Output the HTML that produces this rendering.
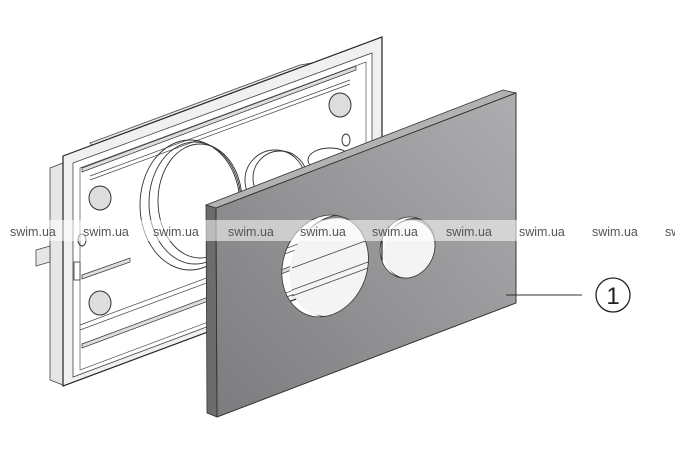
<!DOCTYPE html>
<html><head><meta charset="utf-8"><style>
html,body{margin:0;padding:0;background:#fff;width:675px;height:463px;overflow:hidden}
svg{display:block}
text{font-family:"Liberation Sans",sans-serif}
</style></head><body>
<svg width="675" height="463" viewBox="0 0 675 463">
<defs>
<linearGradient id="pg" x1="0" y1="1" x2="1" y2="0">
<stop offset="0" stop-color="#7c7c7e"/><stop offset="1" stop-color="#aeaeb0"/>
</linearGradient>
</defs>
<!-- back box side flanges -->
<polygon points="50,168 63,163 63,385 50,380" fill="#e6e6e6" stroke="#444" stroke-width="0.8"/>
<polygon points="36,250 50,246 50,262 36,266" fill="#e6e6e6" stroke="#444" stroke-width="0.8"/>
<polygon points="90,143 300,65 330,60 95,150" fill="#e6e6e6" stroke="#444" stroke-width="0.8"/>
<!-- frame -->
<polygon points="63,156 382,37 382,267 63,386" fill="#f0f0f0" stroke="#222" stroke-width="1.2"/>
<polygon points="73,163 372,53 372,265 73,377" fill="#fff" stroke="#444" stroke-width="0.8"/>
<polygon points="80,168 366,62 366,263 80,370" fill="#fff" stroke="#555" stroke-width="0.7"/>
<!-- rails -->
<polygon points="82,168 356,66 356,70 82,172" fill="#ddd" stroke="#333" stroke-width="0.7"/>
<line x1="90" y1="176" x2="350" y2="80" stroke="#444" stroke-width="0.7"/>
<line x1="90" y1="180" x2="350" y2="84" stroke="#444" stroke-width="0.7"/>
<polygon points="82,344 356,242 356,246 82,348" fill="#ddd" stroke="#333" stroke-width="0.7"/>
<polygon points="82,275 130,258 130,262 82,279" fill="#ddd" stroke="#333" stroke-width="0.7"/>
<line x1="80" y1="330" x2="360" y2="226" stroke="#444" stroke-width="0.7"/>
<line x1="80" y1="325" x2="360" y2="221" stroke="#444" stroke-width="0.7"/>
<!-- knobs -->
<g fill="#ddd" stroke="#333" stroke-width="1">
<ellipse cx="100" cy="198" rx="11" ry="12"/>
<ellipse cx="100" cy="303" rx="11" ry="12"/>
<ellipse cx="340" cy="105" rx="11" ry="12"/>
</g>
<ellipse cx="346" cy="140" rx="4" ry="6" fill="none" stroke="#333"/>
<ellipse cx="82" cy="240" rx="4" ry="6" fill="none" stroke="#333"/>
<rect x="74" y="262" width="6" height="18" fill="#fff" stroke="#333" stroke-width="0.8"/>
<!-- big buttons -->
<g fill="none" stroke="#333" stroke-width="0.9">
<ellipse cx="190" cy="205" rx="50" ry="65"/>
<ellipse cx="195" cy="203" rx="46" ry="61"/>
<ellipse cx="200" cy="201" rx="42" ry="57"/>
<ellipse cx="275" cy="180" rx="30" ry="30"/>
<ellipse cx="280" cy="178" rx="27" ry="27"/>
<ellipse cx="330" cy="160" rx="22" ry="12"/>
</g>
<!-- plate -->
<polygon points="206,205 503,90 516,93 216,208" fill="#b2b2b4" stroke="#333" stroke-width="0.8"/>
<polygon points="206,205 216,208 217,417 207,413" fill="#6c6c6e" stroke="#333" stroke-width="0.8"/>
<!-- hole rims (thickness) -->
<ellipse cx="335" cy="266" rx="42" ry="52" transform="rotate(20 335 266)" fill="#8a8a8c" stroke="#333" stroke-width="0.8"/>
<ellipse cx="412" cy="249" rx="27" ry="31" transform="rotate(20 412 249)" fill="#8a8a8c" stroke="#333" stroke-width="0.8"/>
<ellipse cx="331" cy="267" rx="40" ry="50" transform="rotate(20 331 267)" fill="#f4f4f4"/>
<ellipse cx="409" cy="249" rx="25" ry="29" transform="rotate(20 409 249)" fill="#f4f4f4"/>
<g stroke="#444" stroke-width="0.8">
<line x1="292" y1="268" x2="368" y2="240"/>
<line x1="292" y1="290" x2="368" y2="262"/>
<line x1="292" y1="296" x2="368" y2="268"/>
</g>
<path fill-rule="evenodd" d="M216,208 L516,93 L516,303 L217,417 Z
M331,215 a42,52 20 1,0 0.1,0 Z
M410,217 a27,31 20 1,0 0.1,0 Z" fill="url(#pg)" stroke="#333" stroke-width="0.8"/>
<path d="M216,208 L516,93 L516,303 L217,417 Z" fill="none" stroke="#333" stroke-width="0.8"/>
<!-- watermark band -->
<rect x="0" y="220" width="675" height="21" fill="#fff" opacity="0.55"/>
<g font-size="12.5" fill="#555">
<text x="10" y="236">swim.ua</text>
<text x="83" y="236">swim.ua</text>
<text x="153" y="236">swim.ua</text>
<text x="228" y="236">swim.ua</text>
<text x="300" y="236">swim.ua</text>
<text x="372" y="236">swim.ua</text>
<text x="446" y="236">swim.ua</text>
<text x="519" y="236">swim.ua</text>
<text x="592" y="236">swim.ua</text>
<text x="665" y="236">swim.ua</text>
</g>
<!-- callout -->
<line x1="506" y1="295" x2="582" y2="295" stroke="#333" stroke-width="1"/>
<circle cx="613" cy="295" r="17" fill="none" stroke="#222" stroke-width="1.3"/>
<text x="613" y="304" font-size="24" text-anchor="middle" fill="#222">1</text>
</svg>
</body></html>
